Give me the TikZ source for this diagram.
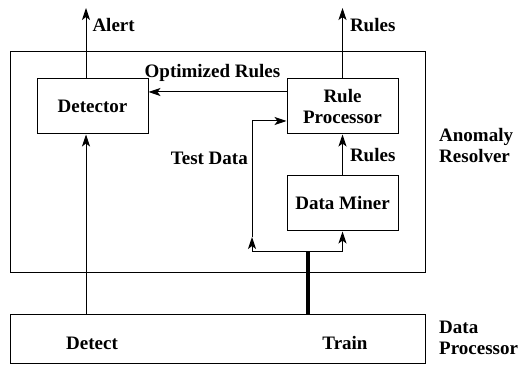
\documentclass[tikz,border=0pt]{standalone}
\usepackage{fontspec}
\setmainfont{Liberation Serif}
\usetikzlibrary{arrows.meta, positioning}

\begin{document}
\begin{tikzpicture}[
    x=1pt, y=1pt,
    font=\fontsize{19}{21}\selectfont\bfseries,
    block/.style={rectangle, draw, line width=1pt, minimum width=111pt, minimum height=55pt, align=center, inner sep=0pt},
    frame/.style={rectangle, draw, line width=0.8pt, inner sep=0pt},
    arrow/.style={-{Stealth[length=12pt, width=8pt, inset=3pt]}, line width=1pt},
    lbl/.style={inner sep=0pt, align=left}
]
\useasboundingbox (0,0) rectangle (519,364);

% Frames
\node[frame, minimum width=415pt, minimum height=221pt] (resolver) at (217.5,202.5) {};
\node[frame, minimum width=415pt, minimum height=49pt] (dataproc) at (217.5,25.5) {};

% Blocks
\node[block] (detector) at (92.5,257.5) {Detector};
\node[block] (ruleproc) at (342.5,257.5) {Rule\\Processor};
\node[block] (miner) at (342.5,160.5) {Data Miner};

% Labels
\node[lbl, anchor=west] (resolverlabel) at (439,218) {Anomaly\\Resolver};
\node[lbl, anchor=west] (dataproclabel) at (439,26) {Data\\Processor};
\node[lbl] (detect) at (92,21) {Detect};
\node[lbl] (train) at (345,21) {Train};
\node[lbl, anchor=east] (testdata) at (248,206) {Test Data};

% Coordinates
\coordinate (alert) at (86,356);
\coordinate (rulesout) at (342.5,356);
\coordinate (optrow) at (0,272);
\coordinate (testrow) at (0,243);
\coordinate (split) at (308,112);
\coordinate (splitleft) at (252,112);
\coordinate (splitright) at (342.5,112);
\coordinate (testtip) at (252,127);

% Arrows
\draw[arrow] (detector.north -| alert) -- node[lbl, anchor=west, pos=0.76, xshift=6pt] {Alert} (alert);
\draw[arrow] (ruleproc.north) -- node[lbl, anchor=west, pos=0.76, xshift=7pt] {Rules} (rulesout);
\draw[arrow] (ruleproc.west |- optrow) -- node[lbl, yshift=19pt, xshift=-5pt] {Optimized Rules} (detector.east |- optrow);
\draw[arrow] (miner.north) -- node[lbl, anchor=west, xshift=7pt] {Rules} (ruleproc.south);
\draw[arrow] (dataproc.north -| alert) -- (detector.south -| alert);
\draw[line width=1pt] (splitleft) -- (splitright);
\draw[arrow] (splitleft) -- (testtip);
\draw[arrow] (testtip) |- (ruleproc.west |- testrow);
\draw[arrow] (splitright) -- (miner.south);
\draw[line width=4pt] (dataproc.north -| split) -- (split);

\end{tikzpicture}
\end{document}
